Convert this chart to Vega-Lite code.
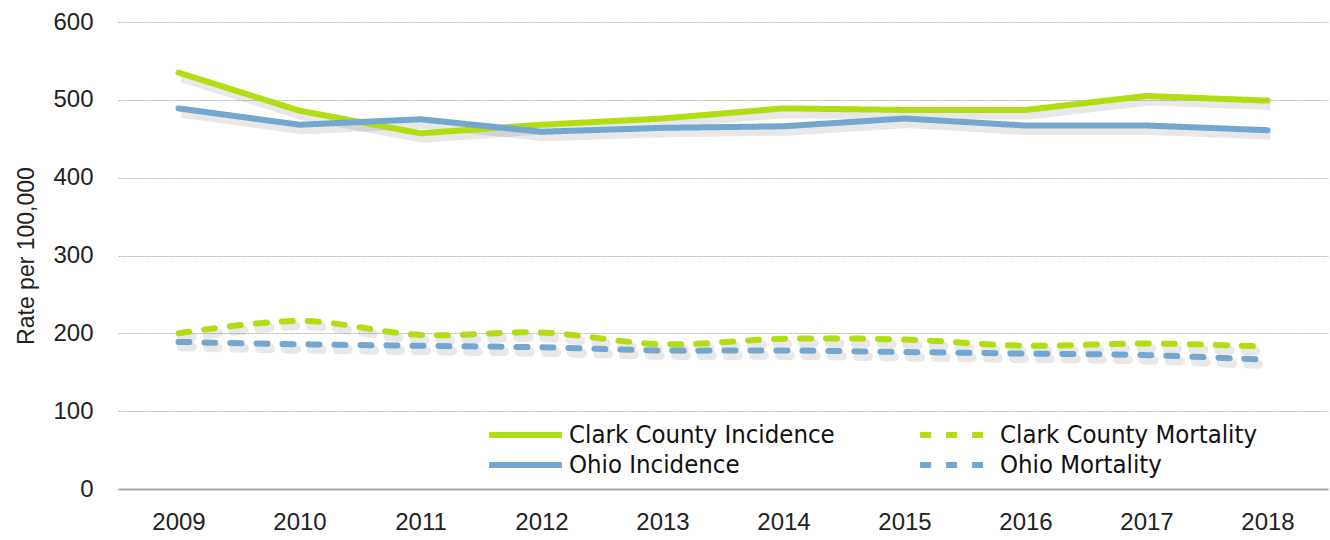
{
  "$schema": "https://vega.github.io/schema/vega-lite/v6.json",
  "width": 1210,
  "height": 467,
  "autosize": {"type": "none"},
  "padding": {"left": 118, "top": 22, "right": 2, "bottom": 51},
  "background": "white",
  "data": {"values": [
    {"year": "2009", "series": "Clark County Incidence", "type": "Incidence", "value": 535},
    {"year": "2010", "series": "Clark County Incidence", "type": "Incidence", "value": 486},
    {"year": "2011", "series": "Clark County Incidence", "type": "Incidence", "value": 457},
    {"year": "2012", "series": "Clark County Incidence", "type": "Incidence", "value": 468},
    {"year": "2013", "series": "Clark County Incidence", "type": "Incidence", "value": 476},
    {"year": "2014", "series": "Clark County Incidence", "type": "Incidence", "value": 489},
    {"year": "2015", "series": "Clark County Incidence", "type": "Incidence", "value": 487},
    {"year": "2016", "series": "Clark County Incidence", "type": "Incidence", "value": 487},
    {"year": "2017", "series": "Clark County Incidence", "type": "Incidence", "value": 505},
    {"year": "2018", "series": "Clark County Incidence", "type": "Incidence", "value": 499},
    {"year": "2009", "series": "Ohio Incidence", "type": "Incidence", "value": 489},
    {"year": "2010", "series": "Ohio Incidence", "type": "Incidence", "value": 468},
    {"year": "2011", "series": "Ohio Incidence", "type": "Incidence", "value": 475},
    {"year": "2012", "series": "Ohio Incidence", "type": "Incidence", "value": 459},
    {"year": "2013", "series": "Ohio Incidence", "type": "Incidence", "value": 464},
    {"year": "2014", "series": "Ohio Incidence", "type": "Incidence", "value": 466},
    {"year": "2015", "series": "Ohio Incidence", "type": "Incidence", "value": 476},
    {"year": "2016", "series": "Ohio Incidence", "type": "Incidence", "value": 467},
    {"year": "2017", "series": "Ohio Incidence", "type": "Incidence", "value": 467},
    {"year": "2018", "series": "Ohio Incidence", "type": "Incidence", "value": 461},
    {"year": "2009", "series": "Clark County Mortality", "type": "Mortality", "value": 200},
    {"year": "2010", "series": "Clark County Mortality", "type": "Mortality", "value": 216},
    {"year": "2011", "series": "Clark County Mortality", "type": "Mortality", "value": 198},
    {"year": "2012", "series": "Clark County Mortality", "type": "Mortality", "value": 201},
    {"year": "2013", "series": "Clark County Mortality", "type": "Mortality", "value": 186},
    {"year": "2014", "series": "Clark County Mortality", "type": "Mortality", "value": 193},
    {"year": "2015", "series": "Clark County Mortality", "type": "Mortality", "value": 192},
    {"year": "2016", "series": "Clark County Mortality", "type": "Mortality", "value": 184},
    {"year": "2017", "series": "Clark County Mortality", "type": "Mortality", "value": 187},
    {"year": "2018", "series": "Clark County Mortality", "type": "Mortality", "value": 183},
    {"year": "2009", "series": "Ohio Mortality", "type": "Mortality", "value": 189},
    {"year": "2010", "series": "Ohio Mortality", "type": "Mortality", "value": 186},
    {"year": "2011", "series": "Ohio Mortality", "type": "Mortality", "value": 184},
    {"year": "2012", "series": "Ohio Mortality", "type": "Mortality", "value": 182},
    {"year": "2013", "series": "Ohio Mortality", "type": "Mortality", "value": 178},
    {"year": "2014", "series": "Ohio Mortality", "type": "Mortality", "value": 178},
    {"year": "2015", "series": "Ohio Mortality", "type": "Mortality", "value": 176},
    {"year": "2016", "series": "Ohio Mortality", "type": "Mortality", "value": 174},
    {"year": "2017", "series": "Ohio Mortality", "type": "Mortality", "value": 172},
    {"year": "2018", "series": "Ohio Mortality", "type": "Mortality", "value": 166}
  ]},
  "encoding": {
    "x": {
      "field": "year", "type": "ordinal",
      "scale": {"type": "point", "padding": 0.5},
      "axis": {
        "title": null, "labelAngle": 0, "labelFontSize": 24, "labelFont": "Liberation Sans",
        "labelColor": "#222", "labelPadding": 21, "ticks": false,
        "domain": true, "domainColor": "#a6a6a6", "domainWidth": 2, "grid": false
      }
    },
    "y": {
      "field": "value", "type": "quantitative",
      "scale": {"domain": [0, 600], "nice": false},
      "axis": {
        "title": "Rate per 100,000", "titleFontSize": 23, "titleFont": "Liberation Sans",
        "titleFontWeight": "normal", "titleColor": "#222", "titlePadding": 14,
        "labelFontSize": 24, "labelFont": "Liberation Sans", "labelColor": "#222",
        "labelPadding": 25, "values": [0, 100, 200, 300, 400, 500, 600],
        "ticks": false, "domain": false,
        "grid": true, "gridColor": "#b5b5b5", "gridDash": [2, 1], "gridWidth": 1
      }
    }
  },
  "layer": [
    {
      "transform": [{"filter": "datum.type === 'Incidence'"}],
      "mark": {"type": "line", "stroke": "#000", "strokeOpacity": 0.09, "strokeWidth": 9, "xOffset": 3, "yOffset": 5, "strokeJoin": "round"},
      "encoding": {"detail": {"field": "series"}}
    },
    {
      "transform": [{"filter": "datum.type === 'Mortality'"}],
      "mark": {"type": "line", "stroke": "#000", "strokeOpacity": 0.09, "strokeWidth": 9, "xOffset": 3, "yOffset": 5, "interpolate": "catmull-rom", "strokeDash": [11, 15], "strokeCap": "round"},
      "encoding": {"detail": {"field": "series"}}
    },
    {
      "transform": [{"filter": "datum.type === 'Incidence'"}],
      "mark": {"type": "line", "strokeWidth": 6, "strokeCap": "round", "strokeJoin": "round"},
      "encoding": {
        "color": {"field": "series", "type": "nominal", "title": null,
          "scale": {"domain": ["Clark County Incidence", "Clark County Mortality", "Ohio Incidence", "Ohio Mortality"],
                    "range": ["#b3dc12", "#b3dc12", "#74a7d0", "#74a7d0"]}},
        "strokeDash": {"field": "series", "type": "nominal", "title": null,
          "scale": {"domain": ["Clark County Incidence", "Clark County Mortality", "Ohio Incidence", "Ohio Mortality"],
                    "range": [[1, 0], [11, 15], [1, 0], [11, 15]]}}
      }
    },
    {
      "transform": [{"filter": "datum.type === 'Mortality'"}],
      "mark": {"type": "line", "strokeWidth": 6, "strokeCap": "round", "interpolate": "catmull-rom"},
      "encoding": {
        "color": {"field": "series", "type": "nominal", "title": null},
        "strokeDash": {"field": "series", "type": "nominal", "title": null}
      }
    }
  ],
  "config": {
    "view": {"stroke": null},
    "legend": {
      "orient": "none", "legendX": 368, "legendY": 399, "columns": 2, "direction": "horizontal",
      "symbolType": "stroke", "symbolSize": 5300, "symbolStrokeWidth": 6, "clipHeight": 28,
      "labelFontSize": 25.5, "labelFont": "DejaVu Sans Condensed", "labelColor": "#111",
      "labelOffset": 4, "columnPadding": 82, "rowPadding": 2, "labelLimit": 400
    }
  }
}
